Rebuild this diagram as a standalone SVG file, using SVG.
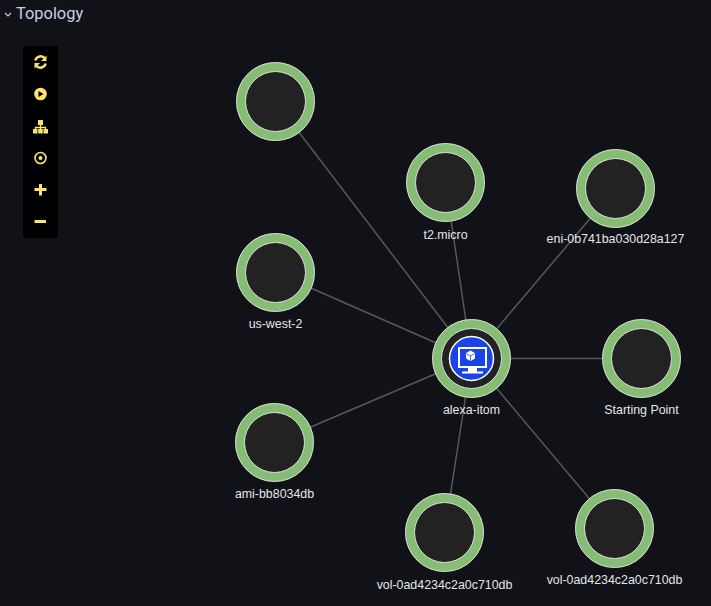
<svg xmlns="http://www.w3.org/2000/svg" width="711" height="606" viewBox="0 0 711 606">
<style>
.bg{fill:#111217}
.link{stroke:#56585a;stroke-width:1.5;fill:none}
.ring{fill:#222222;stroke:#86bd74;stroke-width:9.5}
.edge{fill:none;stroke:#d8d8d8;stroke-width:1}
.lbl{font-family:"Liberation Sans",Arial,sans-serif;font-size:12.4px;fill:#e4e5e6;text-anchor:middle}
.ti{font-family:"Roboto","Liberation Sans",sans-serif;font-size:16.4px;font-weight:400;fill:#c7d0e4}
.ic{fill:#fbe36f}
.ics{fill:none;stroke:#fbe36f}
</style>
<defs>
<g id="n">
<circle class="ring" r="34.5"/>
<circle class="edge" r="39"/>
<circle class="edge" r="30"/>
</g>
</defs>
<rect class="bg" width="711" height="606"/>
<g id="title">
<path d="M5 13 L8 16 L11 13" fill="none" stroke="#c7d0d9" stroke-width="1.200"/>
<text class="ti" x="16" y="19">Topology</text>
</g>
<g id="toolbar">
<rect x="23" y="46" width="35" height="192" rx="2" fill="#000000"/>
<g id="tool-refresh">
<path class="ics" stroke-width="2.400" d="M35.300 60.500 A5.500 5.500 0 0 1 45 58.500 M45.700 63.500 A5.500 5.500 0 0 1 36 65.500"/>
<path class="ic" d="M46.500 55.500 V61 H41 Z M34.500 68.500 V63 H40 Z"/>
</g>
<g id="tool-play">
<circle class="ic" cx="40.500" cy="94" r="6.300"/>
<path d="M38.500 91 L43.500 94 L38.500 97 Z" fill="#000000"/>
</g>
<g id="tool-tree">
<rect class="ic" x="38" y="120" width="5" height="5"/>
<path class="ics" stroke-width="1.300" d="M40.500 125 V128 M35.500 130 V127.500 H45.500 V130 M40.500 127.500 V130"/>
<rect class="ic" x="33" y="129" width="4.500" height="4.500"/>
<rect class="ic" x="38.250" y="129" width="4.500" height="4.500"/>
<rect class="ic" x="43.500" y="129" width="4.500" height="4.500"/>
</g>
<g id="tool-target">
<circle class="ics" cx="40.500" cy="158" r="5.500" stroke-width="1.600"/>
<circle class="ic" cx="40.500" cy="158" r="2"/>
</g>
<g id="tool-plus">
<path class="ic" d="M39 184 H42 V188 H46.500 V191 H42 V195.500 H39 V191 H34.500 V188 H39 Z"/>
</g>
<g id="tool-minus">
<rect class="ic" x="34.500" y="220" width="11.500" height="3"/>
</g>
</g>
<g id="connectors">
<line class="link" x1="471.500" y1="358.500" x2="275.500" y2="101.500"/>
<line class="link" x1="471.500" y1="358.500" x2="445.500" y2="182.500"/>
<line class="link" x1="471.500" y1="358.500" x2="615.500" y2="188.500"/>
<line class="link" x1="471.500" y1="358.500" x2="275.500" y2="272.500"/>
<line class="link" x1="471.500" y1="358.500" x2="641.500" y2="358.500"/>
<line class="link" x1="471.500" y1="358.500" x2="274.500" y2="442.500"/>
<line class="link" x1="471.500" y1="358.500" x2="444.500" y2="532.500"/>
<line class="link" x1="471.500" y1="358.500" x2="614.500" y2="528.500"/>
</g>
<g id="node-unnamed"><use href="#n" x="275.500" y="101.500"/></g>
<g id="node-t2"><use href="#n" x="445.500" y="182.500"/><text class="lbl" x="445.500" y="239">t2.micro</text></g>
<g id="node-eni"><use href="#n" x="615.500" y="188.500"/><text class="lbl" x="615.500" y="243">eni-0b741ba030d28a127</text></g>
<g id="node-region"><use href="#n" x="275.500" y="272.500"/><text class="lbl" x="275.500" y="328">us-west-2</text></g>
<g id="node-start"><use href="#n" x="641.500" y="358.500"/><text class="lbl" x="641.500" y="414">Starting Point</text></g>
<g id="node-ami"><use href="#n" x="274.500" y="442.500"/><text class="lbl" x="274.500" y="498">ami-bb8034db</text></g>
<g id="node-vol1"><use href="#n" x="444.500" y="532.500"/><text class="lbl" x="444.500" y="589">vol-0ad4234c2a0c710db</text></g>
<g id="node-vol2"><use href="#n" x="614.500" y="528.500"/><text class="lbl" x="614.500" y="584">vol-0ad4234c2a0c710db</text></g>
<g id="node-alexa">
<use href="#n" x="471.500" y="358.500"/>
<circle cx="471.500" cy="358.500" r="22" fill="#1a44e8" stroke="#ffffff" stroke-width="1.500"/>
<path d="M458 347 H487 V368 H477 V371.500 H483 V373.500 H462 V371.500 H468 V368 H458 Z M460 349 V366 H485 V349 Z" fill="#ffffff" fill-rule="evenodd"/>
<path d="M470.500 350.500 L475 353 V358.500 L470.500 361 L466 358.500 V353 Z" fill="#ffffff"/>
<path d="M466.300 353.500 L470.500 355.800 L474.700 353.500 M470.500 355.800 V360.500" fill="none" stroke="#1a44e8" stroke-width="0.800"/>
<text class="lbl" x="471.500" y="414">alexa-itom</text>
</g>
</svg>
